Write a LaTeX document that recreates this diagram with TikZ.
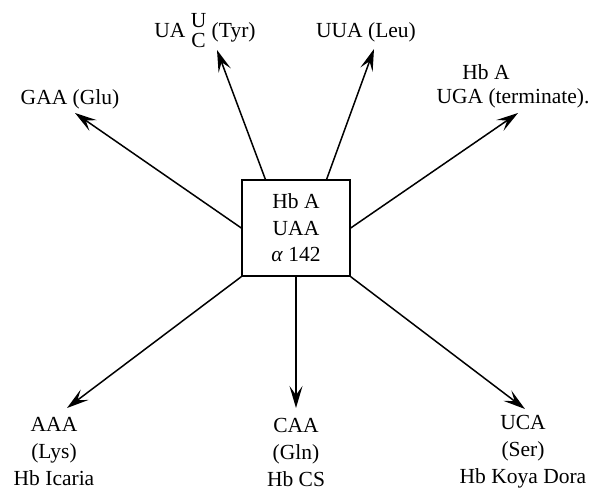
\documentclass[tikz,border=0pt]{standalone}
\usepackage{fontspec}
\setmainfont{Liberation Serif}
\usetikzlibrary{arrows.meta,calc}
\begin{document}
\begin{tikzpicture}[x=1pt,y=-1pt,
  lbl/.style={inner sep=0pt,align=center,font=\fontsize{21.5}{27}\selectfont},
  arr/.style={line width=1.5pt,-{Stealth[length=22pt,width=13pt,inset=9pt]}},
  boxst/.style={draw,line width=1.4pt,minimum width=108pt,minimum height=96pt,inner sep=0pt,align=center,font=\fontsize{21.5}{26.5}\selectfont}]
\useasboundingbox (0,0) rectangle (611,492);
\node[boxst] (box) at (296,228) {Hb A\\UAA\\\textit{α} 142};
% labels
\node[lbl] (glu) at (70,99) {GAA (Glu)};
\node[lbl] (tyr) at (205,32) {UA \begin{tabular}{@{}c@{}}U\\[-7pt]C\end{tabular} (Tyr)};
\node[lbl] (leu) at (366,32) {UUA (Leu)};
\node[lbl] (terma) at (486,72) {Hb A};
\node[lbl] (termb) at (513,98) {UGA (terminate).};
\node[lbl] (lys) at (54,452) {AAA\\(Lys)\\Hb Icaria};
\node[lbl] (gln) at (296,452) {CAA\\(Gln)\\Hb CS};
\node[lbl] (ser) at (523,452) {UCA\\(Ser)\\Hb Koya Dora};
% arrow tips
\coordinate (tglu) at (75,113);
\coordinate (ttyr) at (217,50);
\coordinate (tleu) at (374,49);
\coordinate (tterm) at (518,113);
\coordinate (tlys) at (67,408);
\coordinate (tgln) at (296,408);
\coordinate (tser) at (525,409);
% arrows
\draw[arr] (box.west) -- (tglu);
\draw[arr] ($(box.north west)!0.22!(box.north east)$) -- (ttyr);
\draw[arr] ($(box.north west)!0.78!(box.north east)$) -- (tleu);
\draw[arr] (box.east) -- (tterm);
\draw[arr] (box.south west) -- (tlys);
\draw[arr] (box.south) -- (tgln);
\draw[arr] (box.south east) -- (tser);
\end{tikzpicture}
\end{document}
